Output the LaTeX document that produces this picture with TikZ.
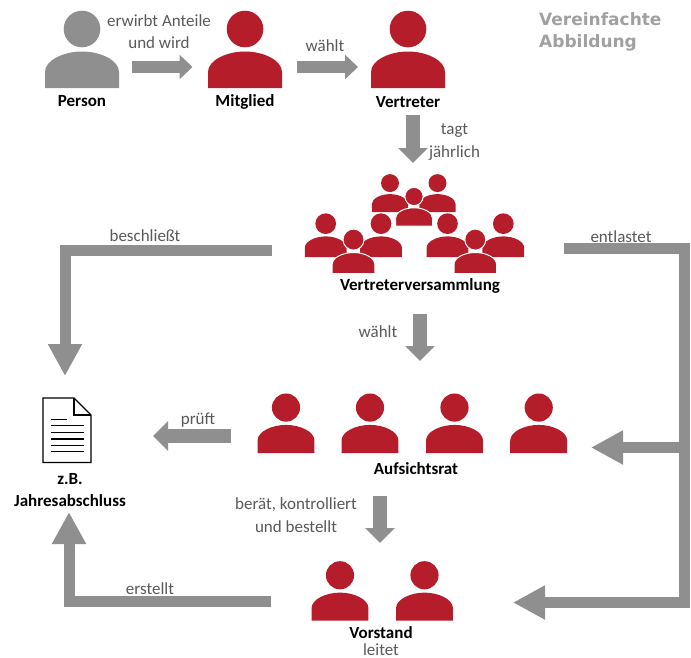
\documentclass[tikz,border=0pt]{standalone}
\usepackage{fontspec}
\setmainfont{Carlito}
\newfontfamily\titlefont{DejaVu Sans}
\usetikzlibrary{arrows.meta}
\definecolor{flowgray}{HTML}{8F8F8F}
\definecolor{iconred}{HTML}{B51D2A}
\definecolor{textgray}{HTML}{595959}
\definecolor{titlegray}{HTML}{A0A0A0}
\tikzset{
  smallflow/.style={draw=flowgray,line width=12pt,-{Triangle[length=13pt,width=24pt]}},
  medflow/.style={draw=flowgray,line width=14.5pt,-{Triangle[length=15pt,width=29pt]}},
  bigflow/.style={draw=flowgray,line width=11pt,miter limit=10,-{Triangle[length=32pt,width=32pt]}},
  lab/.style={text=textgray,font=\fontsize{17}{17}\selectfont,inner sep=0pt,align=center},
  iconname/.style={text=black,font=\fontsize{17}{17}\selectfont\bfseries,inner sep=0pt,align=center},
  titletext/.style={text=titlegray,font=\fontsize{17}{22}\selectfont\titlefont\bfseries,inner sep=0pt,align=left,anchor=north west},
  plainicon/.style={fill=#1},
  fronticon/.style={fill=#1,draw=white,line width=1pt},
}
% #1 centre x, #2 bottom y, #3 scale, #4 style
\newcommand{\personicon}[4]{%
  \begin{scope}[shift={(#1,#2)},scale=#3]
    \path[#4] (0,-59) circle (18.3);
    \path[#4] (-37,0) -- (-37,-16) .. controls (-37,-28) and (-18,-36.5) .. (0,-36.5)
       .. controls (18,-36.5) and (37,-28) .. (37,-16) -- (37,0) -- cycle;
  \end{scope}}
\begin{document}
\begin{tikzpicture}[x=1pt,y=-1pt]
\useasboundingbox (0,0) rectangle (691,657);
% icons
\personicon{82}{88}{1}{plainicon=flowgray}
\personicon{245}{88}{1}{plainicon=iconred}
\personicon{408}{88}{1}{plainicon=iconred}
% assembly
\personicon{390}{212}{0.49}{plainicon=iconred}
\personicon{437.5}{212}{0.49}{plainicon=iconred}
\personicon{414}{226}{0.5}{fronticon=iconred}
\personicon{325.7}{257}{0.565}{plainicon=iconred}
\personicon{381}{257}{0.565}{plainicon=iconred}
\personicon{353.5}{273.5}{0.575}{fronticon=iconred}
\personicon{447.5}{257}{0.565}{plainicon=iconred}
\personicon{503.3}{257}{0.565}{plainicon=iconred}
\personicon{475.3}{273.5}{0.575}{fronticon=iconred}
% supervisory board
\personicon{286}{453}{0.77}{plainicon=iconred}
\personicon{370}{453}{0.77}{plainicon=iconred}
\personicon{454.5}{453}{0.77}{plainicon=iconred}
\personicon{538.7}{453}{0.77}{plainicon=iconred}
% board
\personicon{340}{620.7}{0.77}{plainicon=iconred}
\personicon{424.5}{620.7}{0.77}{plainicon=iconred}
% document
\draw[black,line width=1.1pt,line join=miter] (43,398) -- (74,398) -- (91,415) -- (91,462.5) -- (43,462.5) -- cycle;
\draw[black,line width=1.1pt] (74,398) -- (74,415) -- (91,415);
\foreach \yy/\xe in {419.5/67,425.7/84,432.3/84,439/84,445.7/84,451.7/84}
  \draw[black,line width=1.2pt] (51,\yy) -- (\xe,\yy);
% labels
\node[iconname] (person) at (82,101) {Person};
\node[iconname] (mitglied) at (245,102) {Mitglied};
\node[iconname] (vertreter) at (408,102) {Vertreter};
\node[iconname] (vv) at (420,286) {Vertreterversammlung};
\node[iconname] (ar) at (416,469) {Aufsichtsrat};
\node[iconname] (vs) at (381,633) {Vorstand};
\node[lab] (leitet) at (381,650) {leitet};
\node[iconname] (zb) at (70,479) {z.B.};
\node[iconname] (ja) at (70,501) {Jahresabschluss};
\node[lab] (l1) at (159,21) {erwirbt Anteile};
\node[lab] (l1b) at (159,43) {und wird};
\node[lab] (l2) at (325,46) {wählt};
\node[lab] (l3) at (454.5,131) {tagt};
\node[lab] (l3b) at (454.5,153) {jährlich};
\node[lab] (l4) at (145,236) {beschließt};
\node[lab] (l5) at (621,237) {entlastet};
\node[lab] (l6) at (378,332) {wählt};
\node[lab] (l7) at (198,420) {prüft};
\node[lab] (l8) at (296,505) {berät, kontrolliert};
\node[lab] (l8b) at (296,527) {und bestellt};
\node[lab] (l9) at (150,589) {erstellt};
\node[titletext] (title) at (539,12) {Vereinfachte\\Abbildung};
% connector anchors
\coordinate (a1s) at (132,67); \coordinate (a1e) at (192.5,67);
\coordinate (a2s) at (297,67); \coordinate (a2e) at (358,67);
\coordinate (a3s) at (413,115); \coordinate (a3e) at (413,163);
\coordinate (a4s) at (420,314); \coordinate (a4e) at (420,361);
\coordinate (a5s) at (231,436); \coordinate (a5e) at (153,436);
\coordinate (a6s) at (380,496); \coordinate (a6e) at (380,543);
\coordinate (b1s) at (272,250.5); \coordinate (b1m) at (65,250.5); \coordinate (b1e) at (65,376);
\coordinate (e1s) at (271,601); \coordinate (e1m) at (69,601); \coordinate (e1e) at (69,512);
\coordinate (c1s) at (564,248); \coordinate (c1m) at (684,248); \coordinate (c1c) at (684,602.5);
\coordinate (c1e) at (513,602.5); \coordinate (c2s) at (684,447.5); \coordinate (c2e) at (591,447.5);
% connectors
\draw[smallflow] (a1s) -- (a1e);
\draw[smallflow] (a2s) -- (a2e);
\draw[medflow] (a3s) -- (a3e);
\draw[medflow] (a4s) -- (a4e);
\draw[medflow] (a5s) -- (a5e);
\draw[medflow] (a6s) -- (a6e);
\draw[bigflow] (b1s) -- (b1m) -- (b1e);
\draw[bigflow] (e1s) -- (e1m) -- (e1e);
\draw[bigflow] (c1s) -- (c1m) -- (c1c) -- (c1e);
\draw[bigflow] (c2s) -- (c2e);
\end{tikzpicture}
\end{document}
